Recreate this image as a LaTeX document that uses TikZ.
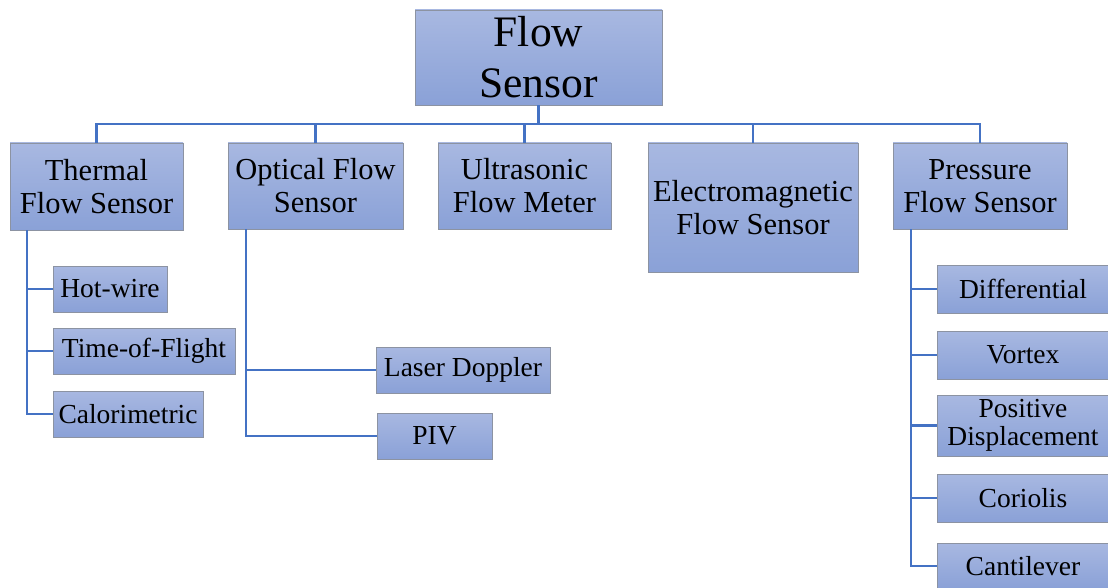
\documentclass[tikz,border=0pt]{standalone}
\usepackage{fontspec}
\setmainfont{Liberation Serif}
\usepackage{xcolor}
\usetikzlibrary{positioning}
\definecolor{BoxTop}{HTML}{A8B8E1}
\definecolor{BoxBottom}{HTML}{8AA1D7}
\definecolor{BoxEdge}{HTML}{8C93A2}
\definecolor{LinkBlue}{HTML}{4472C4}

\begin{document}
\begin{tikzpicture}[
    x=1pt, y=-1pt,
    box/.style={
      draw=BoxEdge,
      line width=0.8pt,
      top color=BoxTop,
      bottom color=BoxBottom,
      inner sep=0pt,
      align=center
    },
    rootbox/.style={box, font=\fontsize{43.5}{51}\selectfont},
    typebox/.style={box, font=\fontsize{30.5}{33}\selectfont},
    leafbox/.style={box, font=\fontsize{27.5}{28.5}\selectfont},
    link/.style={draw=LinkBlue, line width=2.2pt}
  ]
    \clip (0,0) rectangle (1108,588);
    \fill[white] (0,0) rectangle (1108,588);

    % root
    \node[rootbox, minimum width=247pt, minimum height=95pt] (root) at (538.5,57.5) {Flow\\Sensor};

    % sensor types
    \node[typebox, minimum width=173pt, minimum height=87pt] (thermal) at (96.5,186.5) {Thermal\\Flow Sensor};
    \node[typebox, minimum width=175pt, minimum height=86pt] (optical) at (315.5,186) {Optical Flow\\Sensor};
    \node[typebox, minimum width=173pt, minimum height=86pt] (ultra) at (524.5,186) {Ultrasonic\\Flow Meter};
    \node[typebox, minimum width=210pt, minimum height=129pt] (electro) at (753,207.5) {Electromagnetic\\Flow Sensor};
    \node[typebox, minimum width=174pt, minimum height=86pt] (pressure) at (980,186) {Pressure\\Flow Sensor};

    % thermal leaves
    \node[leafbox, minimum width=114pt, minimum height=46pt] (hotwire) at (110,289) {Hot-wire};
    \node[leafbox, minimum width=182pt, minimum height=46pt] (tof) at (144,351) {Time-of-Flight};
    \node[leafbox, minimum width=150pt, minimum height=46pt] (calori) at (128,414) {Calorimetric};

    % optical leaves
    \node[leafbox, minimum width=174pt, minimum height=46pt] (laser) at (463,370) {Laser Doppler};
    \node[leafbox, minimum width=115pt, minimum height=46pt] (piv) at (434.5,436) {PIV};

    % pressure leaves
    \node[leafbox, minimum width=172pt, minimum height=48pt] (diff) at (1023,289) {Differential};
    \node[leafbox, minimum width=172pt, minimum height=48pt] (vortex) at (1023,355) {Vortex};
    \node[leafbox, minimum width=172pt, minimum height=61pt] (posdisp) at (1023,425.5) {Positive\\Displacement};
    \node[leafbox, minimum width=172pt, minimum height=48pt] (coriolis) at (1023,498) {Coriolis};
    \node[leafbox, minimum width=172pt, minimum height=46pt] (canti) at (1023,566) {Cantilever};

    % root to types
    \foreach \t in {thermal,optical,ultra,electro,pressure}
      \draw[link] (root.south) -- ++(0,19) -| (\t.north);

    % types to leaves
    \foreach \l in {hotwire,tof,calori}
      \draw[link] ([xshift=17pt]thermal.south west) |- (\l.west);
    \foreach \l in {laser,piv}
      \draw[link] ([xshift=18pt]optical.south west) |- (\l.west);
    \foreach \l in {diff,vortex,posdisp,coriolis,canti}
      \draw[link] ([xshift=18pt]pressure.south west) |- (\l.west);
  \end{tikzpicture}
\end{document}
